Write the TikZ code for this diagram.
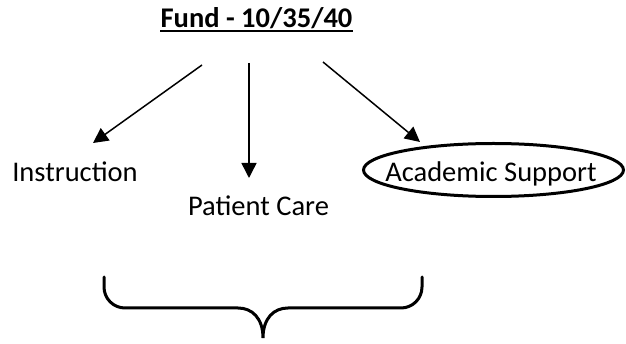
\documentclass[tikz,border=0pt]{standalone}
\usepackage{fontspec}
\setmainfont{Carlito}
\usetikzlibrary{arrows.meta}
\usetikzlibrary{shapes.geometric}

\begin{document}
\begin{tikzpicture}[x=1pt,y=-1pt,
	every node/.style={font=\fontsize{28.5}{34}\selectfont, inner sep=0pt},
	branch/.style={line width=1.5pt, -{Triangle[length=15pt,width=15pt]}}]
	\useasboundingbox (0,0) rectangle (626,344);
	\node[anchor=base, font=\fontsize{28.5}{34}\selectfont\bfseries] (fund) at (256.5,28) {Fund - 10/35/40};
	\draw[line width=2.5pt] ([yshift=-3pt]fund.base west) -- ([yshift=-3pt]fund.base east);
	\node[anchor=base] (instr) at (75,182) {Instruction};
	\node[anchor=base] (care) at (258.5,216) {Patient Care};
	\node[anchor=base] (acad) at (491,182) {Academic Support};
	\node[ellipse, draw, line width=3pt, minimum width=260pt, minimum height=53pt] (acadring) at (493.5,170) {};
	\coordinate (from1) at (202,65);
	\coordinate (to1) at (93,143);
	\coordinate (from2) at (249,63);
	\coordinate (to2) at (249,178);
	\coordinate (from3) at (323,62);
	\coordinate (to3) at (420,142);
	\draw[branch] (from1) -- (to1);
	\draw[branch] (from2) -- (to2);
	\draw[branch] (from3) -- (to3);
	\draw[line width=3pt, line cap=round] (104,277) -- (104,287) .. controls (104,298.6) and (113.4,308) .. (125,308) -- (238,308) .. controls (252,308) and (263,318) .. (263,338) .. controls (263,318) and (274,308) .. (288,308) -- (401,308) .. controls (412.6,308) and (422,298.6) .. (422,287) -- (422,277);
\end{tikzpicture}
\end{document}
